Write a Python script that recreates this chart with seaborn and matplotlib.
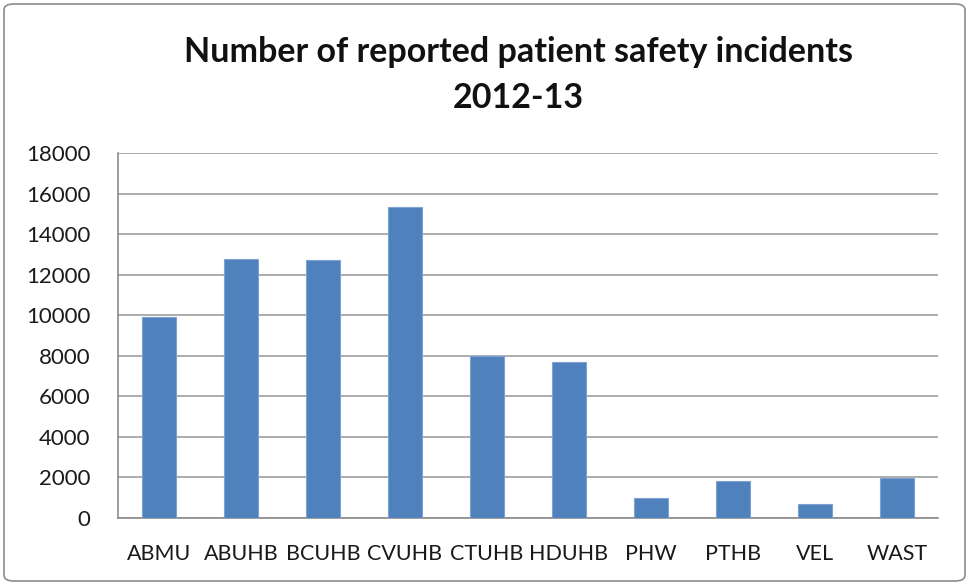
import matplotlib
matplotlib.use("Agg")
import matplotlib.pyplot as plt
import seaborn as sns
import pandas as pd
from matplotlib.patches import FancyBboxPatch

# values
boards = ["ABMU", "ABUHB", "BCUHB", "CVUHB", "CTUHB", "HDUHB", "PHW", "PTHB", "VEL", "WAST"]
incidents = [9890, 12770, 12700, 15320, 7980, 7690, 970, 1840, 710, 1950]
yticks = [0, 2000, 4000, 6000, 8000, 10000, 12000, 14000, 16000, 18000]
title = "Number of reported patient safety incidents\n2012-13"

sns.set_style("white")
plt.rcParams["font.family"] = ["Lato", "DejaVu Sans"]

fig = plt.figure(figsize=(9.69, 5.85), dpi=100)
ax = fig.add_axes([118 / 969, 1 - 518 / 585, 820 / 969, 365 / 585])

df = pd.DataFrame({"board": boards, "incidents": incidents})
sns.barplot(data=df, x="board", y="incidents", color="#4F81BD", saturation=1,
            width=0.41, edgecolor="#7EA2D4", linewidth=0.8, ax=ax, zorder=3)

ax.set_ylim(0, 18000)
ax.set_xlim(-0.5, len(boards) - 0.5)
ax.set_yticks(yticks)
ax.set_yticklabels([str(v) for v in yticks])
ax.set_xlabel("")
ax.set_ylabel("")

# gridlines and axes
ax.yaxis.grid(True, color="#A6A6A6", linewidth=1.3)
ax.set_axisbelow(True)
for side in ["top", "right"]:
    ax.spines[side].set_visible(False)
for side in ["left", "bottom"]:
    ax.spines[side].set_color("#8C8C8C")
    ax.spines[side].set_linewidth(1.2)

ax.tick_params(axis="y", direction="out", length=8, width=1, color="#8C8C8C",
               labelsize=16, pad=12, labelcolor="#1a1a1a")
ax.tick_params(axis="x", which="major", length=0, labelsize=15.5, pad=19, labelcolor="#1a1a1a")
ax.set_xticks([i - 0.5 for i in range(len(boards) + 1)], minor=True)
ax.tick_params(axis="x", which="minor", direction="out", length=8, width=1, color="#8C8C8C")

fig.text(518 / 969, 1 - 75 / 585, title, ha="center", va="center",
         fontsize=24.5, fontweight="bold", linespacing=1.55, color="#111111")

# outer chart border
border = FancyBboxPatch((4 / 969, 4 / 585), 961 / 969, 577 / 585,
                        boxstyle="round,pad=0,rounding_size=0.01",
                        transform=fig.transFigure, fill=False,
                        edgecolor="#8C8C8C", linewidth=1.2)
fig.patches.append(border)

fig.savefig("out.png", dpi=100)
